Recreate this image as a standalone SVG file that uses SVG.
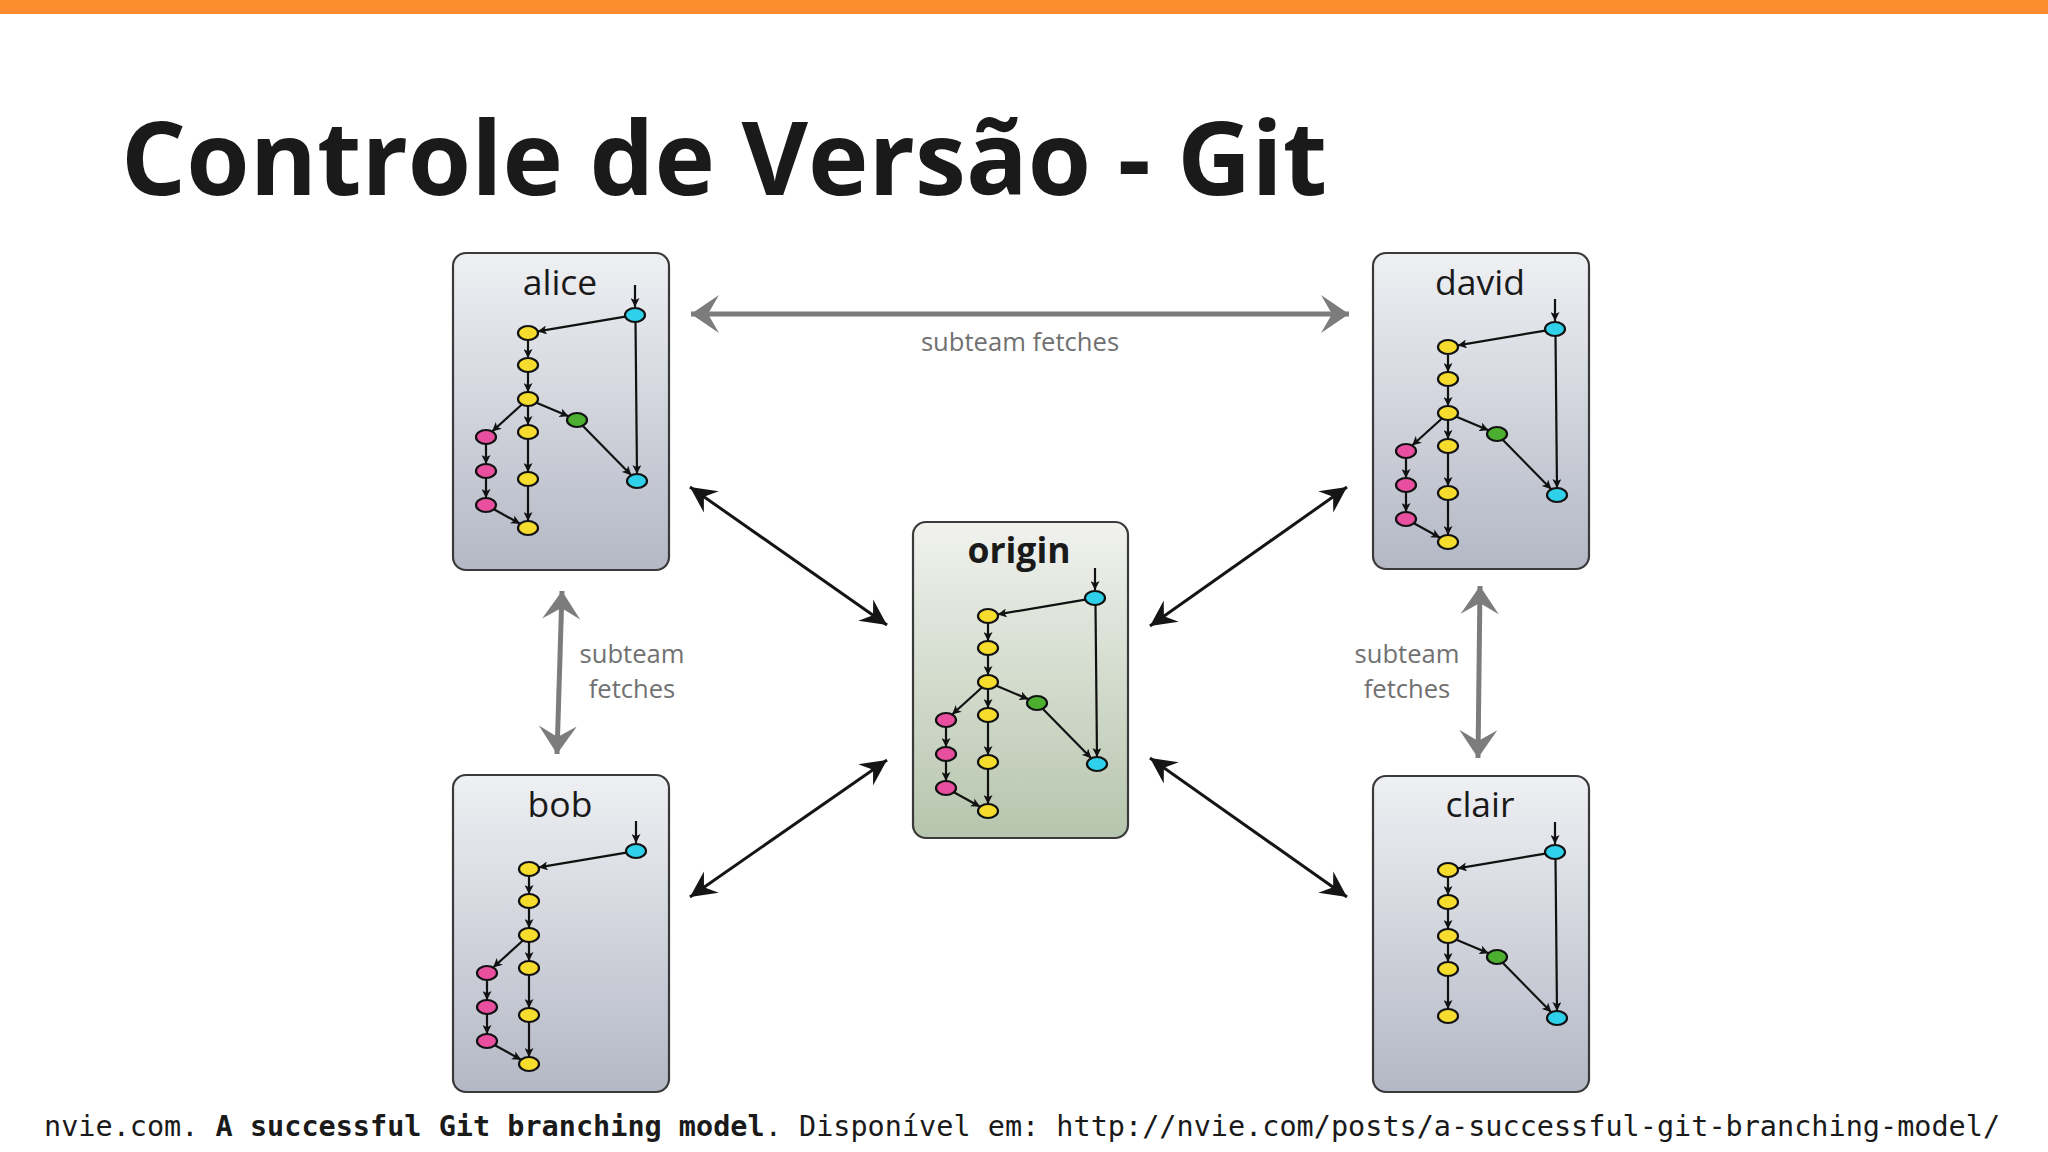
<svg xmlns="http://www.w3.org/2000/svg" width="2048" height="1152" viewBox="0 0 2048 1152">
<style>
.box{stroke:#3a3a3a;stroke-width:2.2}
.lbl{font-family:"Open Sans","Liberation Sans",sans-serif;font-size:35.5px;fill:#1a1a1a;text-anchor:middle}
.e{stroke:#111;stroke-width:2.2;fill:none;marker-end:url(#ah)}
.c{stroke:#111;stroke-width:2.2}
.y{fill:#f6dc2c}.m{fill:#e8509f}.g{fill:#4caf2f}.cy{fill:#2fd0ea}
.big{stroke:#151515;stroke-width:3;fill:none;marker-start:url(#bh);marker-end:url(#bh)}
.gray{stroke:#7c7c7c;stroke-width:5;fill:none;marker-start:url(#gh);marker-end:url(#gh)}
.gt{font-family:"Open Sans","Liberation Sans",sans-serif;font-size:25.6px;fill:#717171;text-anchor:middle}
</style>
<defs>
<linearGradient id="gb" x1="0" y1="0" x2="0" y2="1">
<stop offset="0" stop-color="#eef0f3"/><stop offset="1" stop-color="#b4b8c5"/>
</linearGradient>
<linearGradient id="gg" x1="0" y1="0" x2="0" y2="1">
<stop offset="0" stop-color="#f1f2ee"/><stop offset="1" stop-color="#b6c5ad"/>
</linearGradient>
<marker id="ah" viewBox="0 0 10 10" refX="10" refY="5" markerWidth="9" markerHeight="9" markerUnits="userSpaceOnUse" orient="auto">
<path d="M0,0 L10,5 L0,10 L2.5,5 Z" fill="#111"/>
</marker>
<marker id="bh" viewBox="0 -14 26 28" refX="26" refY="0" markerWidth="26" markerHeight="28" markerUnits="userSpaceOnUse" orient="auto-start-reverse">
<path d="M0,-13 L26,0 L0,13 L9,0 Z" fill="#151515"/>
</marker>
<marker id="gh" viewBox="0 -20 28 40" refX="28" refY="0" markerWidth="28" markerHeight="40" markerUnits="userSpaceOnUse" orient="auto-start-reverse">
<path d="M0,-19 L28,0 L0,19 L11,0 Z" fill="#7c7c7c"/>
</marker>
<g id="full">
<path class="e" d="M182,46 L182,68"/>
<path class="e" d="M172.3,77.6 L84.7,92.4"/>
<path class="e" d="M75,101 L75,119"/>
<path class="e" d="M75,133 L75,153"/>
<path class="e" d="M68.9,165.5 L39.1,192.5"/>
<path class="e" d="M75,167 L75,186"/>
<path class="e" d="M83.5,163.7 L115.5,177.3"/>
<path class="e" d="M129.7,186.8 L178.3,236.2"/>
<path class="e" d="M182.5,83 L184,235"/>
<path class="e" d="M33,205 L33,225"/>
<path class="e" d="M33,239 L33,259"/>
<path class="e" d="M40.9,270.3 L67.1,284.7"/>
<path class="e" d="M75,200 L75,233"/>
<path class="e" d="M75,247 L75,282"/>
<ellipse class="c cy" cx="182" cy="76" rx="10" ry="7"/>
<ellipse class="c y" cx="75" cy="94" rx="10" ry="7"/>
<ellipse class="c y" cx="75" cy="126" rx="10" ry="7"/>
<ellipse class="c y" cx="75" cy="160" rx="10" ry="7"/>
<ellipse class="c g" cx="124" cy="181" rx="10" ry="7"/>
<ellipse class="c m" cx="33" cy="198" rx="10" ry="7"/>
<ellipse class="c y" cx="75" cy="193" rx="10" ry="7"/>
<ellipse class="c m" cx="33" cy="232" rx="10" ry="7"/>
<ellipse class="c y" cx="75" cy="240" rx="10" ry="7"/>
<ellipse class="c m" cx="33" cy="266" rx="10" ry="7"/>
<ellipse class="c y" cx="75" cy="289" rx="10" ry="7"/>
<ellipse class="c cy" cx="184" cy="242" rx="10" ry="7"/>
</g>
</defs>
<rect x="0" y="0" width="2048" height="1152" fill="#ffffff"/>
<rect x="0" y="0" width="2048" height="14" fill="#fd8d2f"/>
<text x="121" y="195" font-family="'Open Sans','Liberation Sans',sans-serif" font-weight="bold" font-size="102.4" fill="#1a1a1a">Controle de Versão - Git</text>

<g id="alice" transform="translate(453,253)">
<rect class="box" x="0" y="0" width="216" height="317" rx="13" fill="url(#gb)"/>
<text class="lbl" x="107" y="42">alice</text>
<use href="#full" transform="translate(0,-14)"/>
</g>

<g id="david" transform="translate(1373,253)">
<rect class="box" x="0" y="0" width="216" height="316" rx="13" fill="url(#gb)"/>
<text class="lbl" x="107" y="42">david</text>
<use href="#full"/>
</g>

<g id="origin" transform="translate(913,522)">
<rect class="box" x="0" y="0" width="215" height="316" rx="13" fill="url(#gg)"/>
<text class="lbl" x="106" y="41" font-weight="bold">origin</text>
<use href="#full"/>
</g>

<g id="bob" transform="translate(453,775)">
<rect class="box" x="0" y="0" width="216" height="317" rx="13" fill="url(#gb)"/>
<text class="lbl" x="107" y="42">bob</text>
<path class="e" d="M183,46 L183,68"/>
<path class="e" d="M173.3,77.6 L85.7,92.4"/>
<path class="e" d="M76,101 L76,119"/>
<path class="e" d="M76,133 L76,153"/>
<path class="e" d="M69.9,165.5 L40.1,192.5"/>
<path class="e" d="M76,167 L76,186"/>
<path class="e" d="M34,205 L34,225"/>
<path class="e" d="M34,239 L34,259"/>
<path class="e" d="M41.9,270.3 L68.1,284.7"/>
<path class="e" d="M76,200 L76,233"/>
<path class="e" d="M76,247 L76,282"/>
<ellipse class="c cy" cx="183" cy="76" rx="10" ry="7"/>
<ellipse class="c y" cx="76" cy="94" rx="10" ry="7"/>
<ellipse class="c y" cx="76" cy="126" rx="10" ry="7"/>
<ellipse class="c y" cx="76" cy="160" rx="10" ry="7"/>
<ellipse class="c m" cx="34" cy="198" rx="10" ry="7"/>
<ellipse class="c y" cx="76" cy="193" rx="10" ry="7"/>
<ellipse class="c m" cx="34" cy="232" rx="10" ry="7"/>
<ellipse class="c y" cx="76" cy="240" rx="10" ry="7"/>
<ellipse class="c m" cx="34" cy="266" rx="10" ry="7"/>
<ellipse class="c y" cx="76" cy="289" rx="10" ry="7"/>
</g>

<g id="clair" transform="translate(1373,776)">
<rect class="box" x="0" y="0" width="216" height="316" rx="13" fill="url(#gb)"/>
<text class="lbl" x="107" y="41">clair</text>
<path class="e" d="M182,46 L182,68"/>
<path class="e" d="M172.3,77.6 L84.7,92.4"/>
<path class="e" d="M75,101 L75,119"/>
<path class="e" d="M75,133 L75,153"/>
<path class="e" d="M75,167 L75,186"/>
<path class="e" d="M83.5,163.7 L115.5,177.3"/>
<path class="e" d="M129.7,186.8 L178.3,236.2"/>
<path class="e" d="M182.5,83 L184,235"/>
<path class="e" d="M75,200 L75,233"/>
<ellipse class="c cy" cx="182" cy="76" rx="10" ry="7"/>
<ellipse class="c y" cx="75" cy="94" rx="10" ry="7"/>
<ellipse class="c y" cx="75" cy="126" rx="10" ry="7"/>
<ellipse class="c y" cx="75" cy="160" rx="10" ry="7"/>
<ellipse class="c g" cx="124" cy="181" rx="10" ry="7"/>
<ellipse class="c y" cx="75" cy="193" rx="10" ry="7"/>
<ellipse class="c y" cx="75" cy="240" rx="10" ry="7"/>
<ellipse class="c cy" cx="184" cy="242" rx="10" ry="7"/>
</g>

<g id="connectors">
<path class="big" d="M690,487 L887,625"/>
<path class="big" d="M1347,487 L1150,626"/>
<path class="big" d="M690,897 L887,760"/>
<path class="big" d="M1347,897 L1150,758"/>
<path class="gray" d="M691,314 L1349,314"/>
<path class="gray" d="M562,591 L557,754"/>
<path class="gray" d="M1480,586 L1478,758"/>
</g>

<g id="labels">
<text class="gt" x="1020" y="351">subteam fetches</text>
<text class="gt" x="632" y="663">subteam</text>
<text class="gt" x="632" y="698">fetches</text>
<text class="gt" x="1407" y="663">subteam</text>
<text class="gt" x="1407" y="698">fetches</text>
</g>

<text x="44" y="1136" font-family="'DejaVu Sans Mono','Liberation Mono',monospace" font-size="28.5" fill="#1a1a1a" xml:space="preserve">nvie.com. <tspan font-weight="bold">A successful Git branching model</tspan>. Disponível em: http://nvie.com/posts/a-successful-git-branching-model/</text>
</svg>
